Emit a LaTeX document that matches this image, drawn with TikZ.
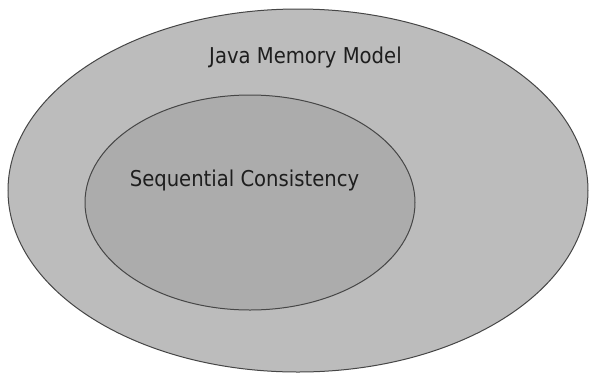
\documentclass[tikz,border=0pt]{standalone}
\usepackage{fontspec}
\setmainfont{DejaVu Sans Condensed}
\usetikzlibrary{shapes.geometric}
\definecolor{outerfill}{RGB}{188,188,188}
\definecolor{innerfill}{RGB}{172,172,172}
\definecolor{edgecol}{RGB}{70,70,70}
\definecolor{textcol}{RGB}{30,30,30}
\tikzset{
  region/.style={ellipse, draw=edgecol, line width=1pt, inner sep=0pt},
  lbl/.style={text=textcol, font=\fontsize{21.8pt}{24pt}\selectfont, anchor=base, inner sep=0pt}
}
\begin{document}
\begin{tikzpicture}[x=1pt,y=-1pt]
\useasboundingbox (0,0) rectangle (590,376);
\fill[white] (0,0) rectangle (590,376);
\node[region, fill=outerfill, minimum width=580pt, minimum height=363pt] (jmm) at (298,190.5) {};
\node[region, fill=innerfill, minimum width=330pt, minimum height=215pt] (sc) at (250,202.5) {};
\node[lbl] (jmmlabel) at (305.5,63) {Java Memory Model};
\node[lbl] (sclabel) at (244.5,186) {Sequential Consistency};
\end{tikzpicture}
\end{document}
